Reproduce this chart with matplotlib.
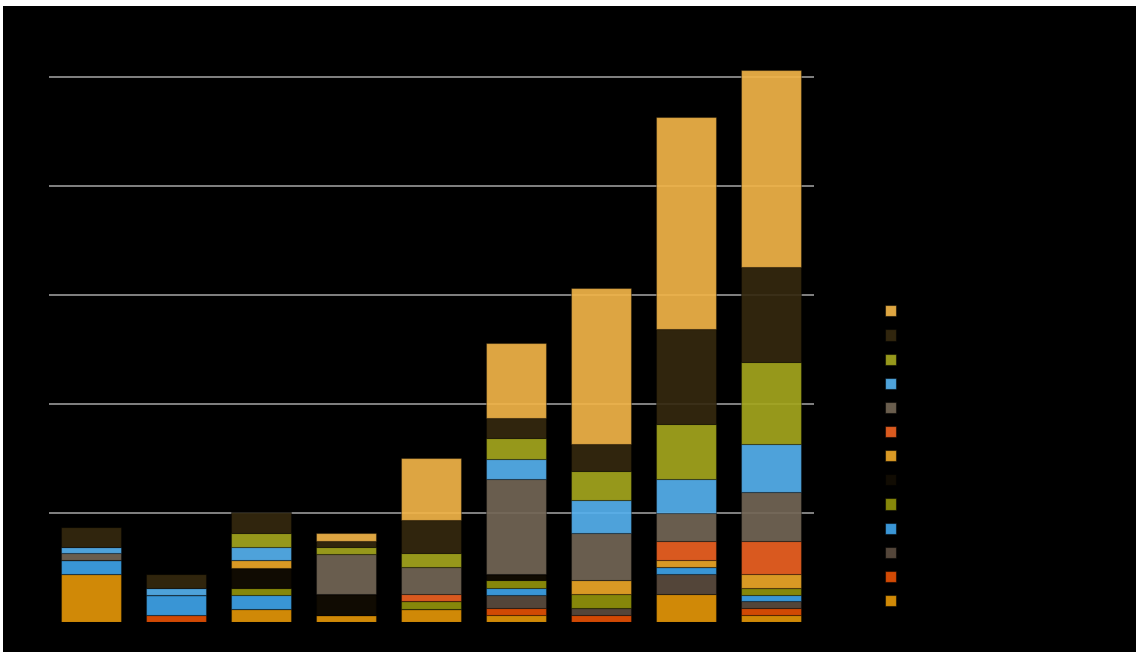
import matplotlib
matplotlib.use("Agg")
import matplotlib.pyplot as plt
from matplotlib.patches import Rectangle, Patch
import numpy as np

categories = ["A", "B", "C", "D", "E", "F", "G", "H", "I"]
series_names = ["Series 1", "Series 2", "Series 3", "Series 4", "Series 5", "Series 6",
                "Series 7", "Series 8", "Series 9", "Series 10", "Series 11", "Series 12",
                "Series 13"]

s1 = [4.43, 0.00, 1.22, 0.64, 1.22, 0.64, 0.00, 2.54, 0.64]
s2 = [0.00, 0.64, 0.00, 0.00, 0.00, 0.61, 0.64, 0.00, 0.61]
s3 = [0.00, 0.00, 0.00, 0.00, 0.00, 1.25, 0.61, 1.86, 0.67]
s4 = [1.26, 1.83, 1.28, 0.00, 0.00, 0.64, 0.00, 0.61, 0.58]
s5 = [0.00, 0.00, 0.61, 0.00, 0.71, 0.71, 1.28, 0.00, 0.61]
s6 = [0.00, 0.00, 1.86, 1.90, 0.00, 0.55, 0.00, 0.00, 0.00]
s7 = [0.00, 0.00, 0.73, 0.00, 0.00, 0.00, 1.31, 0.70, 1.28]
s8 = [0.00, 0.00, 0.00, 0.00, 0.61, 0.00, 0.00, 1.74, 3.06]
s9 = [0.61, 0.00, 0.00, 3.72, 2.48, 8.72, 4.31, 2.57, 4.47]
s10 = [0.61, 0.64, 1.17, 0.00, 0.00, 1.86, 3.06, 3.09, 4.37]
s11 = [0.00, 0.00, 1.31, 0.61, 1.28, 1.90, 2.61, 5.05, 7.52]
s12 = [1.83, 1.28, 1.87, 0.55, 3.03, 1.86, 2.48, 8.69, 8.72]
s13 = [0.00, 0.00, 0.00, 0.76, 5.69, 6.83, 14.37, 19.45, 18.10]

series = [s1, s2, s3, s4, s5, s6, s7, s8, s9, s10, s11, s12, s13]
observed = ["#D18A07", "#D24A05", "#54463A", "#3A96D6", "#86880A", "#110C03",
            "#DA9A25", "#DA5A1F", "#6A5E4E", "#4FA3DB", "#97991C", "#31260E", "#DEA642"]

ALPHA = 0.92
def fill(hexc):
    r, g, b = matplotlib.colors.to_rgb(hexc)
    return (min(r / ALPHA, 1), min(g / ALPHA, 1), min(b / ALPHA, 1), ALPHA)

W, H = 1136, 652
fig = plt.figure(figsize=(W / 100, H / 100), dpi=100)
fig.patch.set_facecolor("white")
fig.patches.append(Rectangle((3 / W, 0), 1, (H - 6) / H, transform=fig.transFigure,
                             facecolor="black", edgecolor="none", zorder=-5))

ax = fig.add_axes([48.5 / W, (H - 622) / H, (813.5 - 48.5) / W, 5.5 * 109 / H])
ax.set_zorder(1)
ax.set_facecolor("black")
ax.set_xlim(-0.5, 8.5)
ax.set_ylim(0, 55)

x = np.arange(len(categories))
bottom = np.zeros(len(categories))
handles = []
for name, vals, col in zip(series_names, series, observed):
    vals = np.array(vals)
    ax.bar(x, vals, width=0.71, bottom=bottom, color=fill(col),
           edgecolor=(0, 0, 0, 0.35), linewidth=0.8, zorder=2, label=name)
    bottom += vals
    handles.append(Patch(facecolor=col, edgecolor=(0, 0, 0, 0.5), linewidth=0.8, label=name))

ax.set_yticks([10, 20, 30, 40, 50])
ax.yaxis.grid(True, color="#8C8C8C", linewidth=1.3, zorder=1)
ax.set_axisbelow(True)
ax.set_xticks(x)
ax.set_xticklabels(categories, color="black")
ax.tick_params(axis="both", length=0, colors="black", labelcolor="black")
for sp in ax.spines.values():
    sp.set_visible(False)

leg = fig.legend(handles[::-1], series_names[::-1], loc="center left",
                 bbox_to_anchor=(879 / W, 1 - 456.5 / H), frameon=False,
                 fontsize=10, handlelength=0.85, handleheight=0.85,
                 labelspacing=0.73, handletextpad=0.6, borderaxespad=0)
leg.set_zorder(2)
for t in leg.get_texts():
    t.set_color("black")

fig.savefig("out.png", dpi=100, facecolor=fig.get_facecolor())
